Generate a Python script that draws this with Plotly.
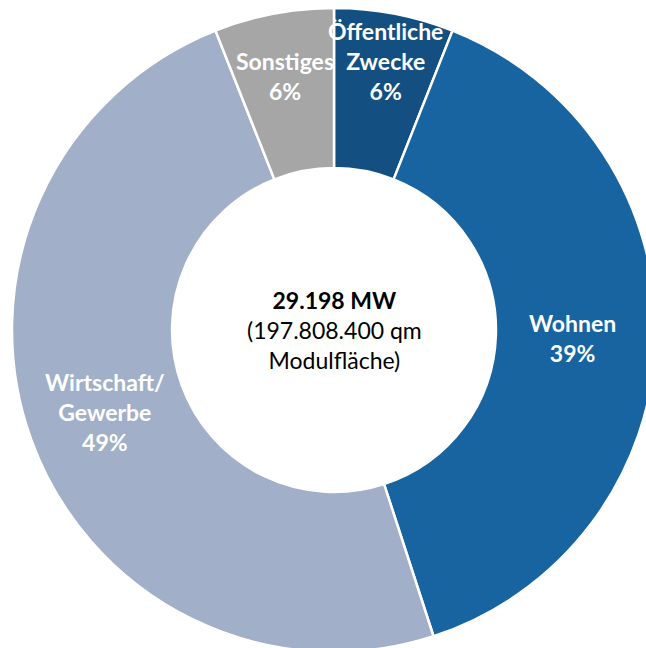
import math
import plotly.graph_objects as go

categories = ["Öffentliche<br>Zwecke", "Wohnen", "Wirtschaft/<br>Gewerbe", "Sonstiges"]
shares = [6, 39, 49, 6]
pct_labels = ["6%", "39%", "49%", "6%"]
colors = ["#134F80", "#1764A0", "#A2AFC8", "#A6A6A6"]
label_radius = [0.85, 0.742, 0.755, 0.804]   # fraction of outer radius (styling)
center_lines = ["<b>29.198 MW</b>", "(197.808.400 qm", "Modulfläche)"]

W, H = 668, 660
R = 322  # outer radius in px
cx, cy = W / 2, H / 2

fig = go.Figure(go.Pie(
    labels=[c.replace("<br>", " ") for c in categories],
    values=shares,
    sort=False,
    direction="clockwise",
    rotation=0,
    hole=0.503,
    marker=dict(colors=colors, line=dict(color="white", width=2.5)),
    textinfo="none",
    hoverinfo="label+percent",
    showlegend=False,
    domain=dict(x=[(cx - R) / W, (cx + R) / W], y=[(cy - R) / H, (cy + R) / H]),
))

total = sum(shares)
cum = 0
for cat, v, p, rf in zip(categories, shares, pct_labels, label_radius):
    mid = (cum + v / 2) / total
    cum += v
    th = 2 * math.pi * mid
    xp = cx + rf * R * math.sin(th)
    yp = cy - rf * R * math.cos(th)
    fig.add_annotation(
        x=xp / W, y=1 - yp / H, xref="paper", yref="paper",
        text=f"<b>{cat}<br>{p}</b>", showarrow=False,
        font=dict(family="Lato", size=23, color="white"),
        align="center", xanchor="center", yanchor="middle",
    )

fig.add_annotation(
    x=0.5, y=0.5, xref="paper", yref="paper",
    text="<br>".join(center_lines), showarrow=False,
    font=dict(family="Lato", size=23, color="black"),
    align="center", xanchor="center", yanchor="middle",
)

fig.update_layout(
    width=W, height=H, autosize=False,
    margin=dict(l=0, r=0, t=0, b=0),
    paper_bgcolor="white", plot_bgcolor="white",
)

fig.write_html(
    "out.html",
    config={"displayModeBar": False},
    post_script="document.body.style.margin='0';document.body.style.overflow='hidden';",
)
